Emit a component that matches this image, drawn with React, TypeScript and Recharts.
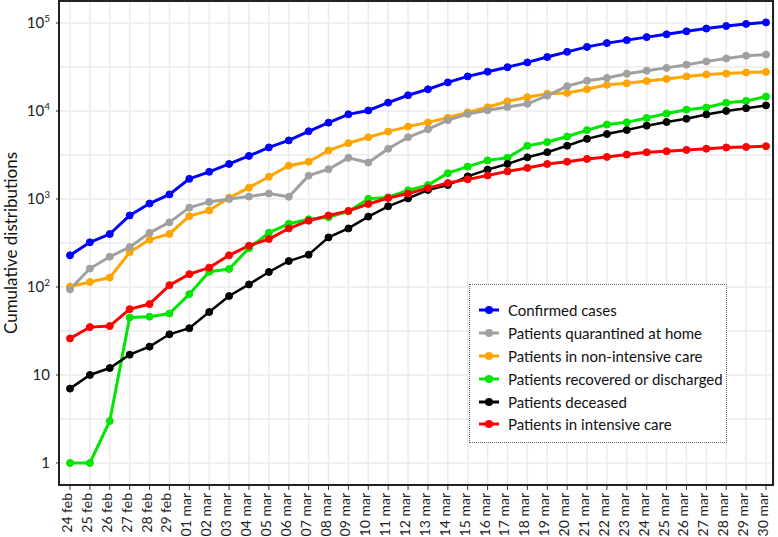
import { LineChart, Line, XAxis, YAxis, CartesianGrid, Legend } from 'recharts';

const days = [
  '24 feb', '25 feb', '26 feb', '27 feb', '28 feb', '29 feb',
  '01 mar', '02 mar', '03 mar', '04 mar', '05 mar', '06 mar', '07 mar', '08 mar', '09 mar', '10 mar',
  '11 mar', '12 mar', '13 mar', '14 mar', '15 mar', '16 mar', '17 mar', '18 mar', '19 mar', '20 mar',
  '21 mar', '22 mar', '23 mar', '24 mar', '25 mar', '26 mar', '27 mar', '28 mar', '29 mar', '30 mar',
];

const confirmed = [229, 322, 400, 650, 888, 1128, 1694, 2036, 2502, 3089, 3858, 4636, 5883, 7375, 9172, 10149, 12462, 15113, 17660, 21157, 24747, 27980, 31506, 35713, 41035, 47021, 53578, 59138, 63927, 69176, 74386, 80539, 86498, 92472, 97689, 101739];
const quarantined = [94, 162, 221, 284, 412, 543, 798, 927, 1000, 1065, 1155, 1060, 1843, 2180, 2936, 2599, 3724, 5036, 6201, 7860, 9268, 10197, 11108, 12090, 14935, 19185, 22116, 23783, 26522, 28697, 30920, 33648, 36653, 39533, 42588, 43752];
const nonIntensive = [101, 114, 128, 248, 345, 401, 639, 742, 1034, 1346, 1790, 2394, 2651, 3557, 4316, 5038, 5838, 6650, 7426, 8372, 9663, 11025, 12894, 14363, 15757, 16020, 17708, 19846, 20692, 21937, 23112, 24753, 26029, 26676, 27386, 27795];
const recovered = [1, 1, 3, 45, 46, 50, 83, 149, 160, 276, 414, 523, 589, 622, 724, 1004, 1045, 1258, 1439, 1966, 2335, 2749, 2941, 4025, 4440, 5129, 6072, 7024, 7432, 8326, 9362, 10361, 10950, 12384, 13030, 14620];
const deceased = [7, 10, 12, 17, 21, 29, 34, 52, 79, 107, 148, 197, 233, 366, 463, 631, 827, 1016, 1266, 1441, 1809, 2158, 2503, 2978, 3405, 4032, 4825, 5476, 6077, 6820, 7503, 8165, 9134, 10023, 10779, 11591];
const intensive = [26, 35, 36, 56, 64, 105, 140, 166, 229, 295, 351, 462, 567, 650, 733, 877, 1028, 1153, 1328, 1518, 1672, 1851, 2060, 2257, 2498, 2655, 2857, 3009, 3204, 3396, 3489, 3612, 3732, 3856, 3906, 3981];

const yTicks = [1, 10, 100, 1000, 10000, 100000];
const gridValues = [1, 3.1623, 10, 31.623, 100, 316.23, 1000, 3162.3, 10000, 31623, 100000];

const series = [
  { key: 'confirmed', name: 'Confirmed cases', color: '#0000ff', width: 3 },
  { key: 'quarantined', name: 'Patients quarantined at home', color: '#a0a0a0', width: 3 },
  { key: 'nonIntensive', name: 'Patients in non-intensive care', color: '#ffa500', width: 3 },
  { key: 'recovered', name: 'Patients recovered or discharged', color: '#00e600', width: 3 },
  { key: 'deceased', name: 'Patients deceased', color: '#000000', width: 2.5 },
  { key: 'intensive', name: 'Patients in intensive care', color: '#ff0000', width: 3 },
];

const drawOrder = ['confirmed', 'nonIntensive', 'quarantined', 'recovered', 'deceased', 'intensive'];

const data = days.map((day, i) => ({
  day,
  confirmed: confirmed[i],
  quarantined: quarantined[i],
  nonIntensive: nonIntensive[i],
  recovered: recovered[i],
  deceased: deceased[i],
  intensive: intensive[i],
}));

const font = 'Lato, "Open Sans", sans-serif';

function YTick({ x, y, payload }: any) {
  const v = payload.value;
  const exp = Math.round(Math.log10(v));
  return (
    <text x={x - 4} y={y} dy={5} textAnchor="end" fontSize={15} fill="#222" fontFamily={font}>
      {exp < 2 ? String(v) : (
        <>
          10<tspan dy={-6} fontSize={10}>{exp}</tspan>
        </>
      )}
    </text>
  );
}

function XTick({ x, y, payload }: any) {
  return (
    <text
      transform={`translate(${x},${y + 1}) rotate(-90)`}
      textAnchor="end"
      dy={2}
      fontSize={14}
      fill="#222"
      fontFamily={font}
    >
      {payload.value}
    </text>
  );
}

function LegendBox() {
  return (
    <div
      style={{
        width: 258,
        height: 159,
        boxSizing: 'border-box',
        border: '1px dotted #666',
        background: '#fff',
        padding: '14px 0 0 8px',
        fontFamily: font,
        fontSize: 15,
        color: '#111',
      }}
    >
      {series.map((s) => (
        <div key={s.key} style={{ display: 'flex', alignItems: 'center', height: 22.8 }}>
          <svg width={22} height={10} style={{ marginRight: 8 }}>
            <line x1={1} y1={5} x2={21} y2={5} stroke={s.color} strokeWidth={3} />
            <circle cx={11} cy={5} r={4} fill={s.color} />
          </svg>
          <span>{s.name}</span>
        </div>
      ))}
    </div>
  );
}

export default function App() {
  return (
    <div style={{ position: 'absolute', left: 0, top: 0, width: 778, height: 537, background: '#fff' }}>
      <LineChart
        width={778}
        height={537}
        data={data}
        margin={{ top: 1, right: 4, left: 0, bottom: 0 }}
        style={{ fontFamily: font }}
      >
        <CartesianGrid stroke="#ebebeb" strokeWidth={1.5} horizontalValues={gridValues} />
        <XAxis
          dataKey="day"
          interval={0}
          height={52}
          padding={{ left: 11, right: 8 }}
          tick={<XTick />}
          tickSize={5}
          tickLine={{ stroke: '#333' }}
          axisLine={{ stroke: '#222', strokeWidth: 2 }}
        />
        <YAxis
          scale="log"
          domain={[0.562, 178000]}
          ticks={yTicks}
          allowDataOverflow
          width={59}
          tick={<YTick />}
          tickSize={3}
          tickLine={{ stroke: '#333' }}
          axisLine={{ stroke: '#222', strokeWidth: 2 }}
          label={{
            content: () => (
              <text
                transform="translate(17,243) rotate(-90)"
                textAnchor="middle"
                fontSize={17}
                fill="#111"
                fontFamily={font}
              >
                Cumulative distributions
              </text>
            ),
          }}
        />
        <Legend
          layout="vertical"
          align="center"
          verticalAlign="middle"
          wrapperStyle={{ left: 469, top: 284, width: 258, height: 159 }}
          content={() => <LegendBox />}
        />
        {drawOrder.map((k) => {
          const s = series.find((d) => d.key === k)!;
          return (
            <Line
              key={s.key}
              type="linear"
              dataKey={s.key}
              name={s.name}
              stroke={s.color}
              strokeWidth={s.width}
              dot={{ r: 3.5, fill: s.color, stroke: s.color, strokeWidth: 1 }}
              activeDot={false}
              isAnimationActive={false}
            />
          );
        })}
      </LineChart>
      <div
        style={{
          position: 'absolute',
          left: 58,
          top: 0,
          width: 774 - 58,
          height: 486,
          boxSizing: 'border-box',
          border: '2px solid #222',
          pointerEvents: 'none',
        }}
      />
    </div>
  );
}
